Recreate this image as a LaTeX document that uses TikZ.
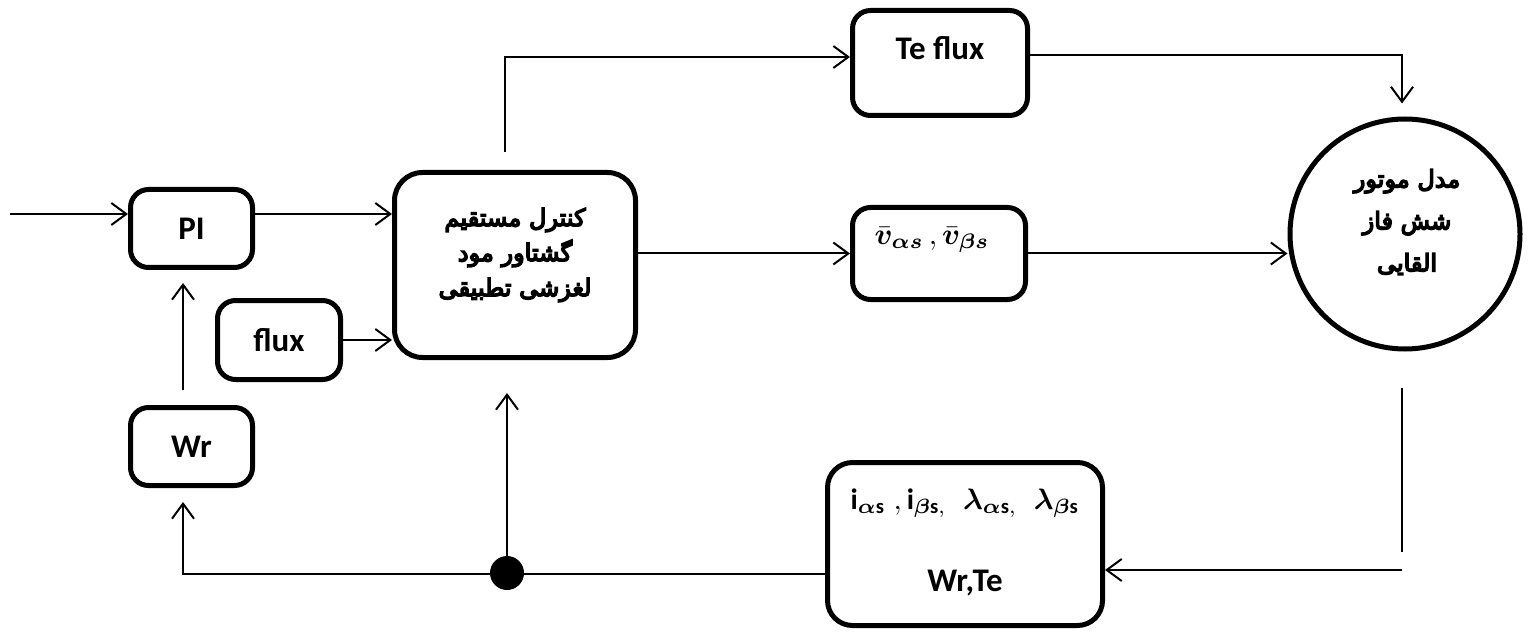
\documentclass[tikz,border=0pt]{standalone}
\usepackage{graphicx}
\usepackage{fontspec}
\usepackage{amsmath}
\usepackage{bm}
\usetikzlibrary{arrows.meta,calc}
\setmainfont{Carlito}
\newfontfamily\fafont[Script=Arabic,FakeBold=6]{DejaVu Sans}
\TeXXeTstate=1
\newcommand{\vlabel}{\scalebox{3.0}{\fontsize{10}{12}\selectfont$\bm{\bar{v}_{\alpha s}}\,,\bm{\bar{v}_{\beta s}}$}}
\newcommand{\mlabel}{\scalebox{2.95}{\fontsize{10}{12}\selectfont$\mathbf{i}_{\bm{\alpha}\mathbf{s}}\;,\mathbf{i}_{\bm{\beta}\mathbf{s},}\;\;\bm{\lambda}_{\bm{\alpha}\mathbf{s},}\;\;\bm{\lambda}_{\bm{\beta}\mathbf{s}}$}}
\begin{document}
\begin{tikzpicture}[x=1pt,y=-1pt,
  box/.style={draw, line width=5pt, rounded corners=18pt, inner sep=0pt},
  lbl/.style={font=\fontsize{33}{38}\selectfont\bfseries, inner sep=0pt},
  arr/.style={line width=2pt, -{Straight Barb[length=15pt,width=22pt,line width=2pt]}},
  ln/.style={line width=2pt},
  fatext/.style={font=\fafont\fontsize{24}{35}\selectfont, align=center, inner sep=0pt},
  mtxt/.style={inner sep=0pt}
]
\useasboundingbox (0,0) rectangle (1528,636);

% boxes
\node[box, lbl, minimum width=122pt, minimum height=78pt] (pi) at (191.5,228.5) {PI};
\node[box, lbl, minimum width=123pt, minimum height=79pt] (flux) at (279,340) {flux};
\node[box, lbl, minimum width=122pt, minimum height=78pt] (wr) at (191.5,446.5) {Wr};
\node[box, rounded corners=28pt, minimum width=241pt, minimum height=185pt] (ctrl) at (515,265) {};
\node[box, minimum width=175pt, minimum height=105pt] (teflux) at (940,63) {};
\node[box, minimum width=173pt, minimum height=92pt] (vbox) at (939,253.5) {};
\node[draw, circle, line width=5pt, minimum size=230pt, inner sep=0pt] (motor) at (1405,234) {};
\node[box, rounded corners=25pt, minimum width=275pt, minimum height=163pt] (meas) at (965,544) {};

% texts
\node[lbl] (tefluxtxt) at (940,48) {Te flux};
\node[mtxt] (vtxt) at (932,240) {\vlabel};
\node[fatext] (ctrltxt) at (515,255) {\beginR کنترل مستقیم\endR\\ \beginR گشتاور مود\endR\\ \beginR لغزشی تطبیقی\endR};
\node[fatext, font=\fafont\fontsize{24}{42}\selectfont] (motortxt) at (1407,222) {\beginR مدل موتور\endR\\ \beginR شش فاز\endR\\ \beginR القایی\endR};
\node[mtxt] (meastxt) at (965,503) {\mlabel};
\node[lbl] (wrte) at (965,583) {Wr,Te};

% junction
\node[circle, fill=black, minimum size=34pt, inner sep=0pt] (jn) at (507,573) {};

% coordinates
\coordinate (in1) at (10,214);
\coordinate (tfy) at (505,57);
\coordinate (mt) at (1402,55);
\coordinate (mb2) at (1402,552);
\coordinate (mr) at (1402,570);
\coordinate (fbl) at (183,574);

% connectors
\draw[arr] (in1) -- (in1 -| pi.west);
\draw[arr] (in1 -| pi.east) -- (in1 -| ctrl.west);
\draw[arr] (flux.east) -- (flux.east -| ctrl.west);
\draw[arr, shorten <=15pt, shorten >=13pt] ([xshift=-8.5pt]wr.north) -- ([xshift=-8.5pt]pi.south);
\draw[arr, shorten >=14pt] (meas.west |- fbl) -- (fbl) -- (fbl |- wr.south);
\draw[arr, shorten >=33pt] (jn.center) -- (jn.center |- ctrl.south);
\draw[arr, shorten <=18pt] (tfy |- ctrl.north) -- (tfy) -- (tfy -| teflux.west);
\draw[arr] (vbox.west -| ctrl.east) -- (vbox.west);
\draw[arr] (vbox.east) -- (vbox.east -| motor.west);
\draw[arr, shorten >=13pt] (mt -| teflux.east) -- (mt) -- (mt |- motor.north);
\draw[ln, shorten <=36pt] (mb2 |- motor.south) -- (mb2);
\draw[arr] (mr) -- (mr -| meas.east);
\end{tikzpicture}
\end{document}
